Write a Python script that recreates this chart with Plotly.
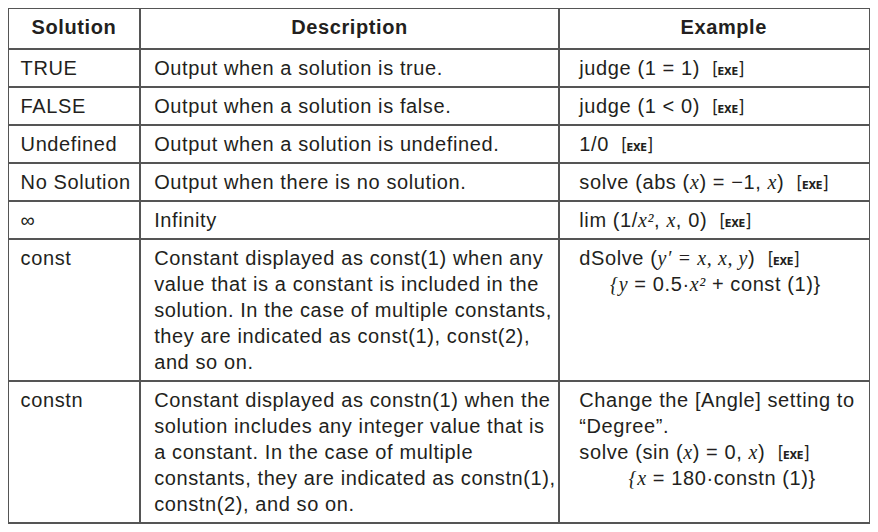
import re
import plotly.graph_objects as go

# ---- data ----
headers = ["Solution", "Description", "Example"]

solutions = ["TRUE", "FALSE", "Undefined", "No Solution", "∞", "const", "constn"]

descriptions = [
    ["Output when a solution is true."],
    ["Output when a solution is false."],
    ["Output when a solution is undefined."],
    ["Output when there is no solution."],
    ["Infinity"],
    ["Constant displayed as const(1) when any",
     "value that is a constant is included in the",
     "solution. In the case of multiple constants,",
     "they are indicated as const(1), const(2),",
     "and so on."],
    ["Constant displayed as constn(1) when the",
     "solution includes any integer value that is",
     "a constant. In the case of multiple",
     "constants, they are indicated as constn(1),",
     "constn(2), and so on."],
]

examples = [
    ["judge (1 = 1)  [EXE]"],
    ["judge (1 &lt; 0)  [EXE]"],
    ["1/0  [EXE]"],
    ["solve (abs ($x$) = −1, $x$)  [EXE]"],
    ["lim (1/$x²$, $x$, 0)  [EXE]"],
    ["dSolve ($y′ = x, x, y$)  [EXE]",
     "     $\u007by$ = 0.5·$x²$ + const (1)}"],
    ["Change the [Angle] setting to",
     "“Degree”.",
     "solve (sin ($x$) = 0, $x$)  [EXE]",
     "        $\u007bx$ = 180·constn (1)}"],
]

# ---- styling helpers ----
FONT = "Liberation Sans"
SIZE = 20
SPACING = "0.6px"
TEXT = "#231f20"
LINE = "#555555"
NB = "\u00a0"

KEY = ('<span style="font-family:DejaVu Sans Condensed;font-size:18px;letter-spacing:-1px">[</span>'
       '<span style="font-family:DejaVu Sans Condensed;font-size:11px;font-weight:bold;letter-spacing:-0.3px">EXE</span>'
       '<span style="font-family:DejaVu Sans Condensed;font-size:18px;letter-spacing:0px">]</span>')


def markup(line):
    # leading spaces -> non-breaking spaces (indentation)
    stripped = line.lstrip(" ")
    lead = NB * (len(line) - len(stripped))
    s = stripped.replace("  [EXE]", NB + NB + "[EXE]")
    s = re.sub(r"\$([^$]+)\$",
               lambda m: '<span style="font-family:Liberation Serif"><i>' + m.group(1) + "</i></span>",
               s)
    s = s.replace("[EXE]", KEY)
    return lead + s


def spaced(s):
    return '<span style="letter-spacing:' + SPACING + '">' + s + "</span>"


def cell(lines, pad):
    # trailing <br> marks the text as pre-broken so Plotly does not re-wrap it
    return "<br>".join(spaced(pad + markup(l)) for l in lines) + "<br>"


col1 = [cell([s], "\u2009") for s in solutions]
col2 = [cell(d, NB) for d in descriptions]
col3 = [cell(e, NB + NB) for e in examples]

header_vals = ["<b>" + spaced(headers[0]) + "</b><br>",
               "<b>" + spaced(headers[1]) + "</b><br>",
               "<b>" + spaced(NB * 3 + headers[2]) + "</b><br>"]

fig = go.Figure(go.Table(
    columnwidth=[132, 419, 311],
    header=dict(values=header_vals, align="center", height=41,
                fill_color="white", line=dict(color=LINE, width=1.5),
                font=dict(family=FONT, size=SIZE, color=TEXT)),
    cells=dict(values=[col1, col2, col3], align="left", height=38,
               fill_color="white", line=dict(color=LINE, width=1.5),
               font=dict(family=FONT, size=SIZE, color=TEXT)),
))

fig.update_layout(margin=dict(l=0, r=0, t=0, b=0),
                  paper_bgcolor="white", plot_bgcolor="white")

fig.write_html("out.html")
